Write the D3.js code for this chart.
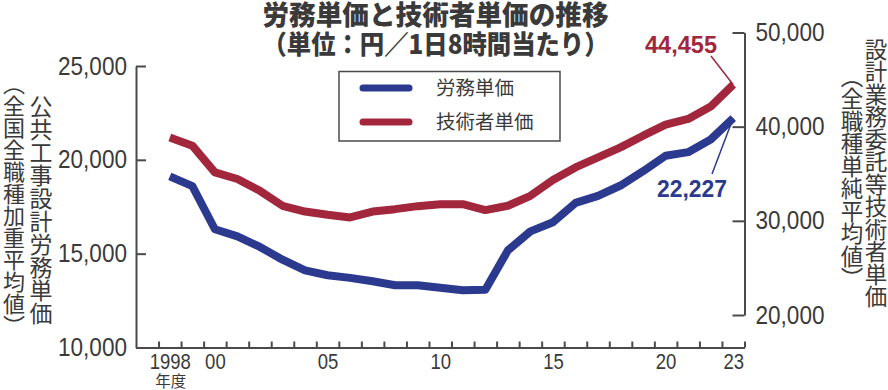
<!DOCTYPE html>
<html>
<head>
<meta charset="utf-8">
<title>労務単価と技術者単価の推移</title>
<style>
body { margin: 0; background: #fff; }
svg { display: block; }
.tick text { fill: #3a3a3a; }
.axis path, .axis line { stroke: #4a4a4a; stroke-width: 2; }
.num { font-family: 'Liberation Sans', sans-serif; }
.jp { font-family: 'Noto Sans CJK JP', sans-serif; fill: #3a3a3a; }
</style>
</head>
<body>
<svg width="888" height="390"></svg>
<script src="https://cdn.jsdelivr.net/npm/d3@7"></script>
<script>

var years = [1998, 1999, 2000, 2001, 2002, 2003, 2004, 2005, 2006, 2007, 2008, 2009, 2010,
             2011, 2012, 2013, 2014, 2015, 2016, 2017, 2018, 2019, 2020, 2021, 2022, 2023];

// 労務単価 (left axis)
var laborValues = [19121, 18600, 16300, 15920, 15360, 14680, 14110, 13850, 13710, 13530, 13320, 13320, 13180,
                   13047, 13072, 15175, 16190, 16678, 17704, 18078, 18632, 19392, 20214, 20409, 21084, 22227];

// 技術者単価 (right axis)
var engineerValues = [38860, 37980, 35140, 34440, 33190, 31600, 30990, 30640, 30360, 30990, 31240, 31560, 31770,
                      31770, 31140, 31600, 32660, 34330, 35670, 36730, 37800, 39040, 40210, 40820, 42130, 44455];

var leftTicks = [10000, 15000, 20000, 25000];
var rightTicks = [20000, 30000, 40000, 50000];
var yearLabels = [1998, 2000, 2005, 2010, 2015, 2020, 2023];
var yearText = ["1998", "00", "05", "10", "15", "20", "23"];

var blue = "#2b3a8e", red = "#a2273c";

var svg = d3.select("svg");

var x = d3.scaleLinear().domain([1996.5, 2023.5]).range([136, 744.5]);
var yL = d3.scaleLinear().domain([10000, 25000]).range([347.5, 66]);
var yR = d3.scaleLinear().domain([20000, 50000]).range([315, 32.5]);

var fmt = d3.format(",");

// squeeze numbers to look like the condensed face of the original
function squeeze(sel, digitW, commaW) {
  sel.each(function() {
    var s = this.textContent;
    var n = s.replace(/,/g, "").length, c = s.length - n;
    d3.select(this).attr("textLength", n * digitW + c * commaW).attr("lengthAdjust", "spacingAndGlyphs");
  });
}

// x axis with band boundary ticks
var boundaries = years.map(function(y) { return y - 0.5; }).concat([2023.5]);
svg.append("g").attr("class", "axis").attr("transform", "translate(0,347.5)")
  .call(d3.axisBottom(x).tickValues(boundaries).tickSizeInner(-6).tickSizeOuter(0).tickFormat(""));

var xl = svg.append("g").attr("class", "axis num").attr("transform", "translate(0,347.5)")
  .call(d3.axisBottom(x).tickValues(yearLabels).tickSize(0).tickPadding(6)
    .tickFormat(function(d, i) { return yearText[i]; }));
xl.select(".domain").remove();
xl.selectAll("text").style("font-size", "22px").call(squeeze, 10.3, 5);

svg.append("text").attr("class", "jp").attr("x", x(1998) + 1).attr("y", 387)
  .attr("text-anchor", "middle").style("font-size", "15.5px").text("年度");

// left axis
var la = svg.append("g").attr("class", "axis num").attr("transform", "translate(136,0)")
  .call(d3.axisLeft(yL).tickValues(leftTicks).tickSizeInner(-10).tickSizeOuter(0).tickPadding(9).tickFormat(fmt));
la.selectAll("text").style("font-size", "25px").call(squeeze, 12.4, 7);

// right axis
var ra = svg.append("g").attr("class", "axis num").attr("transform", "translate(744.5,0)")
  .call(d3.axisRight(yR).tickValues(rightTicks).tickSizeInner(-12).tickSizeOuter(0).tickPadding(11).tickFormat(fmt));
ra.selectAll("text").style("font-size", "25px").call(squeeze, 12.4, 7);

// lines
var lineL = d3.line().x(function(d, i) { return x(years[i]); }).y(function(d) { return yL(d); });
var lineR = d3.line().x(function(d, i) { return x(years[i]); }).y(function(d) { return yR(d); });

svg.append("path").datum(engineerValues).attr("d", lineR)
  .attr("fill", "none").attr("stroke", red).attr("stroke-width", 8).attr("stroke-linejoin", "round");
svg.append("path").datum(laborValues).attr("d", lineL)
  .attr("fill", "none").attr("stroke", blue).attr("stroke-width", 8).attr("stroke-linejoin", "round");

// end value labels
var last = years.length - 1;
svg.append("line").attr("x1", 711).attr("y1", 56).attr("x2", x(years[last])).attr("y2", yR(engineerValues[last]))
  .attr("stroke", red).attr("stroke-width", 1.5);
svg.append("text").attr("x", 681).attr("y", 53).attr("text-anchor", "middle")
  .style("font-family", "'Liberation Sans', sans-serif").style("font-weight", "bold").style("font-size", "23px")
  .attr("textLength", 72).attr("lengthAdjust", "spacingAndGlyphs")
  .attr("fill", red).text(fmt(engineerValues[last]));

svg.append("line").attr("x1", 712).attr("y1", 174).attr("x2", x(years[last])).attr("y2", yL(laborValues[last]))
  .attr("stroke", blue).attr("stroke-width", 1.5);
svg.append("text").attr("x", 692).attr("y", 197).attr("text-anchor", "middle")
  .style("font-family", "'Liberation Sans', sans-serif").style("font-weight", "bold").style("font-size", "23px")
  .attr("textLength", 70).attr("lengthAdjust", "spacingAndGlyphs")
  .attr("fill", blue).text(fmt(laborValues[last]));

// title
svg.append("text").attr("class", "jp").attr("x", 435.5).attr("y", 25).attr("text-anchor", "middle")
  .style("font-size", "27.5px").style("font-weight", "900")
  .attr("textLength", 346).attr("lengthAdjust", "spacingAndGlyphs").text("労務単価と技術者単価の推移");
svg.append("text").attr("class", "jp").attr("x", 435.5).attr("y", 54).attr("text-anchor", "middle")
  .style("font-size", "26.5px").style("font-weight", "900")
  .attr("textLength", 346).attr("lengthAdjust", "spacingAndGlyphs").text("（単位：円／1日8時間当たり）");

// legend
var lg = svg.append("g");
lg.append("rect").attr("x", 339).attr("y", 71.5).attr("width", 221).attr("height", 69.5)
  .attr("fill", "#fff").attr("stroke", "#4a4a4a").attr("stroke-width", 1.5);
[["労務単価", blue, 88], ["技術者単価", red, 122]].forEach(function(it) {
  lg.append("line").attr("x1", 363).attr("x2", 409).attr("y1", it[2]).attr("y2", it[2])
    .attr("stroke", it[1]).attr("stroke-width", 7).attr("stroke-linecap", "round");
  lg.append("text").attr("class", "jp").attr("x", 436).attr("y", it[2] + 7)
    .style("font-size", "19.5px").text(it[0]);
});

// vertical axis titles
function vtext(cx, top, size, s) {
  svg.append("text").attr("class", "jp").attr("x", cx).attr("y", top)
    .style("writing-mode", "vertical-rl").style("font-size", size + "px").text(s);
}
vtext(41, 95, 23, "公共工事設計労務単価");
vtext(14, 73, 22, "（全国全職種加重平均値）");
vtext(876, 38, 22.5, "設計業務委託等技術者単価");
vtext(852, 65, 22.5, "（全職種単純平均値）");

</script>
</body>
</html>
